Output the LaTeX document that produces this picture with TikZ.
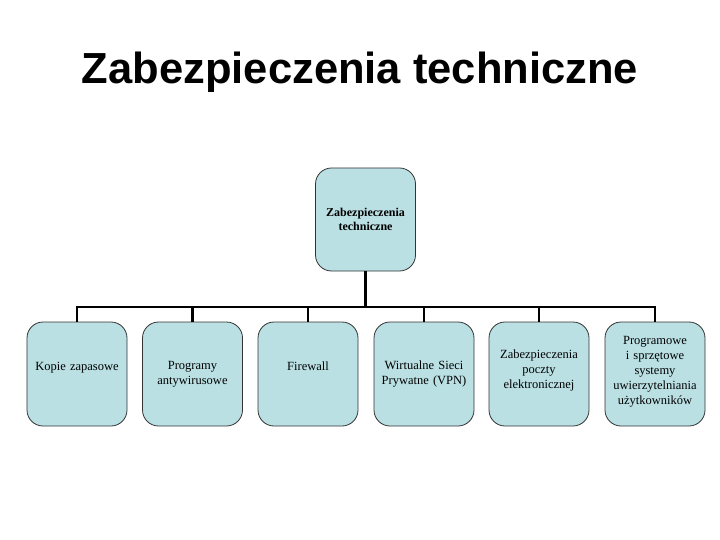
\documentclass[tikz,border=0pt]{standalone}
\usepackage{fontspec}
\setmainfont{Liberation Serif}
\newfontfamily\titlefont{Liberation Sans}
\usepackage{tikz}

\definecolor{boxfill}{RGB}{186,224,228}
% empty line under the text, to lift it in its box
\newcommand{\liftline}[1]{\\[#1]\mbox{}}

\tikzset{
  unitbox/.style={draw=black!80, line width=0.8pt, fill=boxfill, rounded corners=16bp,
    minimum width=100bp, minimum height=104bp, align=center, text width=92bp,
    font=\fontsize{12.5bp}{15bp}\selectfont},
  conn/.style={line width=2.6bp, black}
}

\begin{document}
\begin{tikzpicture}[x=1bp, y=-1bp]
    \useasboundingbox (0,0) rectangle (720,540);
    % title
    \node[font=\titlefont\bfseries\fontsize{43.5bp}{50bp}\selectfont, anchor=base] (title) at (360,84) {Zabezpieczenia techniczne};
    % top box
    \node[unitbox, minimum height=103bp, font=\bfseries\fontsize{12bp}{13.5bp}\selectfont] (top) at (365.5,219.5) {Zabezpieczenia\\techniczne};
    % second level
    \node[unitbox] (kopie) at (77,374) {Kopie zapasowe\liftline{0pt}};
    \node[unitbox] (antyw) at (192.5,374) {Programy\\antywirusowe};
    \node[unitbox] (firewall) at (308,374) {Firewall\liftline{0pt}};
    \node[unitbox] (vpn) at (424,374) {Wirtualne Sieci\\Prywatne (VPN)};
    \node[unitbox] (poczta) at (539,374) {Zabezpieczenia\\poczty\\elektronicznej\liftline{-6bp}};
    \node[unitbox] (uwierz) at (655,374) {Programowe\\i sprzętowe\\systemy\\uwierzytelniania\\użytkowników\liftline{-7bp}};
    % connectors
    \coordinate (bus) at (365.5,307);
    \draw[conn] (top.south) -- (bus);
    \draw[conn] (kopie.north) -- (kopie.north |- bus) -- (uwierz.north |- bus) -- (uwierz.north);
    \foreach \n in {antyw, firewall, vpn, poczta}
        \draw[conn] (\n.north) -- (\n.north |- bus);
\end{tikzpicture}
\end{document}
